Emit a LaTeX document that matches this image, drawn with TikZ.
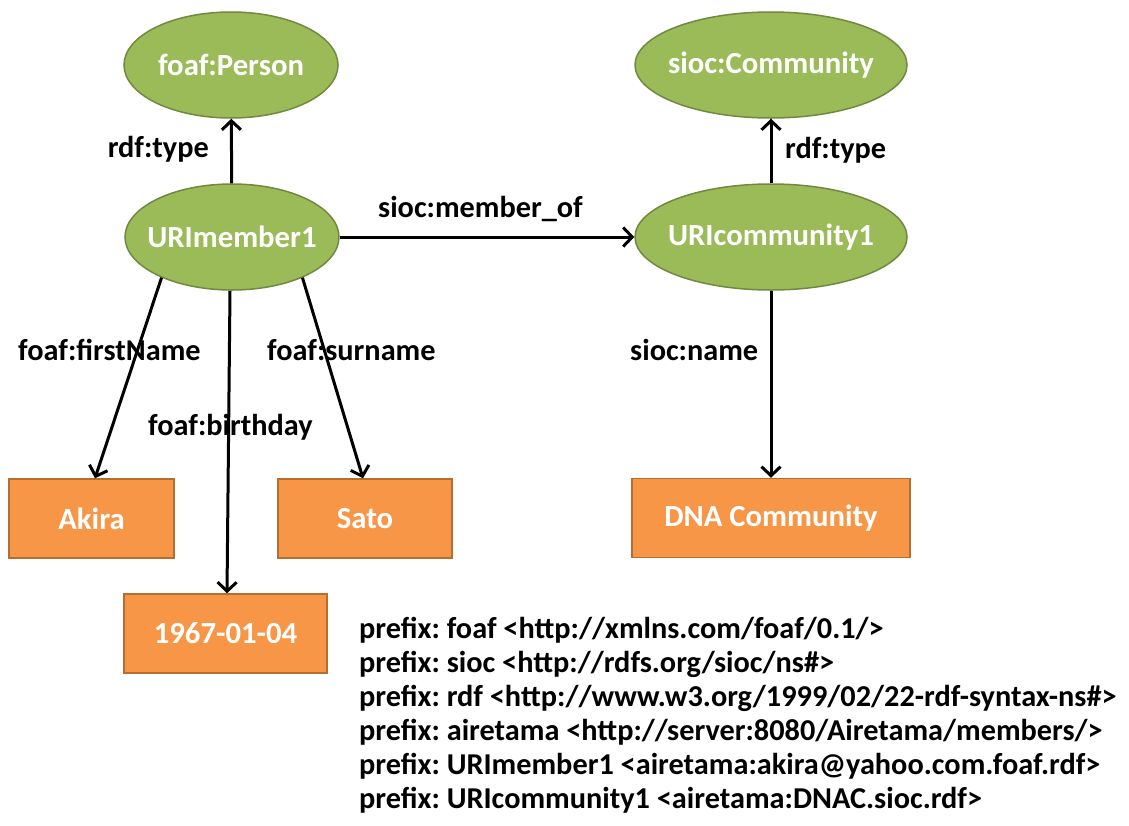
\documentclass[tikz,border=0pt]{standalone}
\usepackage{fontspec}
\setmainfont{Carlito}
\usetikzlibrary{shapes.geometric,arrows.meta}
\definecolor{resfill}{HTML}{9BBB59}
\definecolor{resedge}{HTML}{71893F}
\definecolor{litfill}{HTML}{F79646}
\definecolor{litedge}{HTML}{B66D31}
\frenchspacing
\begin{document}
\begin{tikzpicture}[x=1pt,y=-1pt,
  res/.style={ellipse, fill=resfill, draw=resedge, line width=1.5pt,
    minimum width=214pt, minimum height=106pt, inner xsep=-45pt, inner ysep=0pt,
    text=white, font=\bfseries\fontsize{30.7}{36}\selectfont},
  lit/.style={rectangle, fill=litfill, draw=litedge, line width=1.5pt,
    minimum height=79pt, inner sep=0pt,
    text=white, font=\bfseries\fontsize{30.7}{36}\selectfont},
  rel/.style={line width=3pt, -{Straight Barb[length=9pt,width=19pt,line width=3pt]}},
  lbl/.style={anchor=base west, inner sep=0pt, text=black,
    font=\bfseries\fontsize{30.3}{36}\selectfont},
  pfx/.style={anchor=base west, inner sep=0pt, text=black,
    font=\bfseries\fontsize{30.3}{34}\selectfont}]
\useasboundingbox (0,0) rectangle (1129,825);
\fill[white] (0,0) rectangle (1129,825);

% resources
\node[res] (person) at (231,65) {foaf:Person};
\node[res] (member) at (232,237) {URImember1};
\node[res, minimum width=272pt] (community) at (771,65) {sioc:Community};
\node[res, minimum width=272pt] (comm1) at (771,237) {URIcommunity1};

% literals
\node[lit, minimum width=165pt] (akira) at (91.5,518.5) {Akira};
\node[lit, minimum width=174pt] (sato) at (365,518.5) {Sato};
\node[lit, minimum width=203pt] (bday) at (225.5,633.5) {1967-01-04};
\node[lit, minimum width=278pt] (dna) at (771,518) {DNA Community};

% properties
\draw[rel] (member) -- (person);
\draw[rel] (comm1) -- (community);
\draw[rel] (member) -- (comm1);
\draw[rel] (member.210) -- ([xshift=3.5pt]akira.north);
\draw[rel] ([xshift=-2pt]member.south) -- ([xshift=1.5pt]bday.north);
\draw[rel] (member.330) -- ([xshift=-2pt]sato.north);
\draw[rel] (comm1) -- (dna);

% property labels
\node[lbl, anchor=base east] (ltype1) at (209,157) {rdf:type};
\node[lbl] (ltype2) at (785,158) {rdf:type};
\node[lbl] (lmember) at (378,217) {sioc:member\_of};
\node[lbl] (lfirst) at (18,360) {foaf:firstName};
\node[lbl] (lsur) at (267,360) {foaf:surname};
\node[lbl] (lbirth) at (148,435) {foaf:birthday};
\node[lbl] (lname) at (630,360) {sioc:name};

% namespace prefixes
\node[pfx] (p1) at (359,638) {prefix: foaf <http://xmlns.com/foaf/0.1/>};
\node[pfx] (p2) at (359,672) {prefix: sioc <http://rdfs.org/sioc/ns\#>};
\node[pfx] (p3) at (359,706) {prefix: rdf <http://www.w3.org/1999/02/22-rdf-syntax-ns\#>};
\node[pfx] (p4) at (359,740) {prefix: airetama <http://server:8080/Airetama/members/>};
\node[pfx] (p5) at (359,774) {prefix: URImember1 <airetama:akira@yahoo.com.foaf.rdf>};
\node[pfx] (p6) at (359,808) {prefix: URIcommunity1 <airetama:DNAC.sioc.rdf>};
\end{tikzpicture}
\end{document}
